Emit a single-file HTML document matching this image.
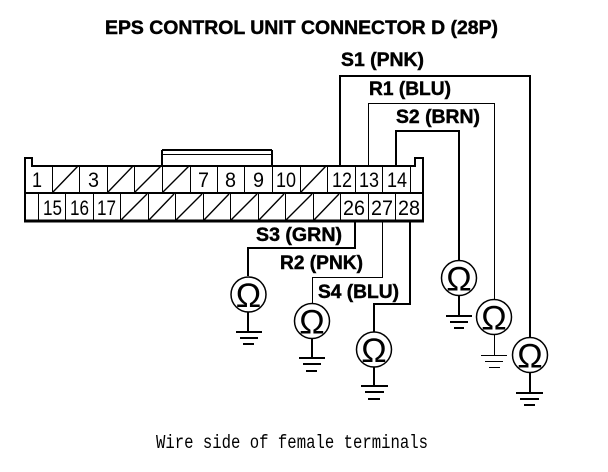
<!DOCTYPE html>
<html><head><meta charset="utf-8"><style>
html,body{margin:0;padding:0;background:#fff}
svg{display:block}
text{fill:#000;font-family:"Liberation Sans",sans-serif}
.t{font-weight:bold;font-size:19px;stroke:#000;stroke-width:.45px}
.n{font-size:21px}
.o{font-size:34px;text-anchor:middle}
</style></head><body>
<svg width="608" height="472" viewBox="0 0 608 472" xmlns="http://www.w3.org/2000/svg">
<rect width="608" height="472" fill="#fff"/>
<text class="t" x="105" y="34" textLength="393" lengthAdjust="spacingAndGlyphs">EPS CONTROL UNIT CONNECTOR D (28P)</text>
<text class="t" x="341" y="66" textLength="83" lengthAdjust="spacingAndGlyphs">S1 (PNK)</text>
<text class="t" x="369" y="95" textLength="82" lengthAdjust="spacingAndGlyphs">R1 (BLU)</text>
<text class="t" x="396" y="123" textLength="84" lengthAdjust="spacingAndGlyphs">S2 (BRN)</text>
<text class="t" x="256" y="241" textLength="86" lengthAdjust="spacingAndGlyphs">S3 (GRN)</text>
<text class="t" x="280" y="269" textLength="83" lengthAdjust="spacingAndGlyphs">R2 (PNK)</text>
<text class="t" x="318" y="298" textLength="81" lengthAdjust="spacingAndGlyphs">S4 (BLU)</text>

<g fill="none" stroke="#000" shape-rendering="crispEdges">
<!-- wires -->
<path d="M340 165V76H530V337" stroke-width="2"/>
<path d="M368.500 165V103.500H494.500V299" stroke-width="1"/>
<path d="M396 165V131H459V260" stroke-width="2"/>
<path d="M355 221V248H248V276" stroke-width="2"/>
<path d="M382.500 221V277.500H312.500V303" stroke-width="1"/>
<path d="M410 221V304H374V332" stroke-width="2"/>
<!-- outline -->
<path d="M25 193V158H32V166H162V150M162 166H272M272 150V166H415V158H423V221" stroke-width="2"/>
<path d="M24 221H424" stroke-width="3"/>
<path d="M25 193V221" stroke-width="2"/>
<path d="M162 150H272" stroke-width="2"/>
<path d="M162 154.500H272" stroke-width="1"/>
<path d="M24 193H423" stroke-width="2"/>
<!-- upper cell dividers -->
<path d="M52.500 166V193M79.500 166V193M107.500 166V193M134.500 166V193M190.500 166V193M217.500 166V193M244.500 166V193M272.500 166V193M300.500 166V193M327.500 166V193M355.500 166V193M382.500 166V193M410.500 166V193M162.500 166V193" stroke-width="1"/>
<!-- lower cell dividers -->
<path d="M38.500 194V220M65.500 194V220M93.500 194V220M120.500 194V220M148.500 194V220M175.500 194V220M203.500 194V220M230.500 194V220M258.500 194V220M285.500 194V220M313.500 194V220M340.500 194V220M368.500 194V220M395.500 194V220" stroke-width="1"/>
</g>
<g fill="none" stroke="#000" stroke-width="1.400">
<path d="M53 192L78 166M108 192L133 166M135 192L161 166M163 192L189 166M301 192L326 166"/>
<path d="M121 220L147 194M149 220L174 194M176 220L202 194M204 220L229 194M231 220L257 194M259 220L284 194M286 220L312 194M314 220L339 194"/>
</g>

<g class="n">
<text x="32" y="187" textLength="10" lengthAdjust="spacingAndGlyphs">1</text>
<text x="88" y="187" textLength="11" lengthAdjust="spacingAndGlyphs">3</text>
<text x="198" y="187" textLength="11" lengthAdjust="spacingAndGlyphs">7</text>
<text x="225" y="187" textLength="11" lengthAdjust="spacingAndGlyphs">8</text>
<text x="253" y="187" textLength="11" lengthAdjust="spacingAndGlyphs">9</text>
<text x="276" y="187" textLength="20" lengthAdjust="spacingAndGlyphs">10</text>
<text x="332" y="187" textLength="20" lengthAdjust="spacingAndGlyphs">12</text>
<text x="359" y="187" textLength="20" lengthAdjust="spacingAndGlyphs">13</text>
<text x="387" y="187" textLength="20" lengthAdjust="spacingAndGlyphs">14</text>
<text x="43" y="215" textLength="19" lengthAdjust="spacingAndGlyphs">15</text>
<text x="70" y="215" textLength="19" lengthAdjust="spacingAndGlyphs">16</text>
<text x="97" y="215" textLength="19" lengthAdjust="spacingAndGlyphs">17</text>
<text x="343" y="215" textLength="22" lengthAdjust="spacingAndGlyphs">26</text>
<text x="371" y="215" textLength="22" lengthAdjust="spacingAndGlyphs">27</text>
<text x="398" y="215" textLength="22" lengthAdjust="spacingAndGlyphs">28</text>
</g>

<!-- meters -->
<g fill="#fff" stroke="#000" stroke-width="1.500">
<circle cx="248.500" cy="294.500" r="17.500"/>
<circle cx="312" cy="321" r="17.500"/>
<circle cx="374" cy="349.500" r="17.500"/>
<circle cx="459" cy="278" r="17.500"/>
<circle cx="494" cy="317" r="17.500"/>
<circle cx="530" cy="355" r="17.500"/>
</g>
<g>
<text class="o" x="248.500" y="307">Ω</text>
<text class="o" x="312" y="333.500">Ω</text>
<text class="o" x="374" y="362">Ω</text>
<text class="o" x="459" y="290.500">Ω</text>
<text class="o" x="494" y="329.500">Ω</text>
<text class="o" x="530" y="367.500">Ω</text>
</g>
<!-- grounds -->
<g fill="none" stroke="#000" shape-rendering="crispEdges">
<g stroke-width="2">
<path d="M248 312V332M236 332H262M240 338H258M243 344H254"/>
<path d="M312 339V358M299 358H325M303 364H321M306 371H317"/>
<path d="M374 367V386M361 386H388M365 392H384M368 399H380"/>
<path d="M459 296V316M446 316H472M450 322H468M454 328H464"/>
<path d="M530 373V393M516 393H543M520 399H539M524 405H535"/>
</g>
<path d="M494.500 335V355.500M481 355.500H507M485 361.500H503M489 367.500H500" stroke-width="1"/>
</g>
<text x="156" y="448" textLength="272" lengthAdjust="spacingAndGlyphs" style="font-family:'Liberation Mono',monospace;font-size:19px">Wire side of female terminals</text>
</svg>
</body></html>
